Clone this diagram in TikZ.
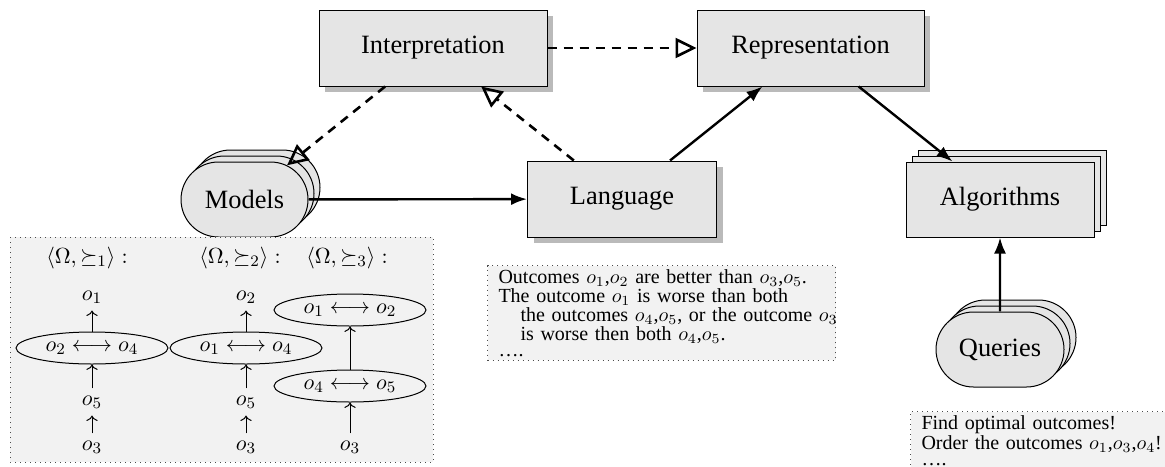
\documentclass[tikz,border=0pt]{standalone}
\usepackage[no-math]{fontspec}
\setmainfont{Liberation Serif}
\usetikzlibrary{arrows.meta,shapes.misc,shapes.geometric,shadows}

\tikzset{every picture/.style={line width=0.5pt}}
\tikzset{
  bigfont/.style={font=\fontsize{13.2}{15}\selectfont},
  block/.style={bigfont, draw, fill=black!10, minimum height=38pt, inner sep=2pt,
    drop shadow={shadow xshift=3pt, shadow yshift=-3pt, fill=black!27, opacity=1}},
  stack/.style={bigfont, draw, fill=black!10, minimum height=37.5pt, inner sep=2pt,
    general shadow={shadow xshift=6pt, shadow yshift=6pt, draw, fill=black!10},
    general shadow={shadow xshift=3pt, shadow yshift=3pt, draw, fill=black!10}},
  blob/.style={stack, rounded rectangle},
  note/.style={draw=black!70, dotted, fill=black!5},
  notetext/.style={note, anchor=north west, inner xsep=5.5pt, inner ysep=2pt,
    align=left, font=\fontsize{10}{8}\selectfont},
  uml/.style={line width=1.3pt, dash pattern=on 4.5pt off 3.5pt,
    -{Triangle[open, length=10.5pt, width=10pt]}},
  flow/.style={line width=1.2pt, -{Latex[length=8pt, width=6pt]}},
  order/.style={font=\fontsize{11}{13}\selectfont},
  group/.style={order, draw, ellipse, inner sep=0pt, minimum width=76pt, minimum height=16pt},
  up/.style={->, line width=0.5pt},
}

\begin{document}
\begin{tikzpicture}[x=0.5pt,y=0.5pt,yscale=-1,xscale=1]
\useasboundingbox (0,0) rectangle (1165,466);

% Blocks
\node [block, minimum width=114pt] (interp) at (433,48) {Interpretation};
\node [block, minimum width=113.5pt] (repr) at (810.5,48) {Representation};
\node [block, minimum width=94.5pt] (lang) at (622,199) {Language};
\node [stack, minimum width=94pt] (algo) at (1000,199.5) {Algorithms};
\node [blob, minimum width=67.5pt] (models) at (244.5,199.5) {Models};
\node [blob, minimum width=68pt] (queries) at (1000,349.5) {Queries};

% Dashed arrows
\draw [uml] (interp) -- (repr);
\draw [uml] (interp) -- (models);
\draw [uml] (lang) -- (interp);
% Solid arrows
\draw [flow] (models) -- (lang);
\draw [flow] (lang) -- (repr);
\draw [flow] (repr) -- (algo);
\draw [flow] (queries) -- (algo);

% Orders of the models
\draw [note] (10,237) rectangle (433,462);
\node [order] (h1) at (87,258) {$\langle\Omega,\succeq_1\rangle:$};
\node [order] (h2) at (240,258) {$\langle\Omega,\succeq_2\rangle:$};
\node [order] (h3) at (347,258) {$\langle\Omega,\succeq_3\rangle:$};

\node [order] (a1) at (92,297) {$o_1$};
\node [group] (e1) at (92,348) {$o_2\longleftrightarrow o_4$};
\node [order] (a5) at (92,402) {$o_5$};
\node [order] (a3) at (92,447) {$o_3$};
\draw [up] (e1) -- (a1);
\draw [up] (a5) -- (e1);
\draw [up] (a3) -- (a5);

\node [order] (b1) at (246,297) {$o_2$};
\node [group] (e2) at (246,348) {$o_1\longleftrightarrow o_4$};
\node [order] (b5) at (246,402) {$o_5$};
\node [order] (b3) at (246,447) {$o_3$};
\draw [up] (e2) -- (b1);
\draw [up] (b5) -- (e2);
\draw [up] (b3) -- (b5);

\node [group] (f1) at (350,310) {$o_1\longleftrightarrow o_2$};
\node [group] (f2) at (350,386) {$o_4\longleftrightarrow o_5$};
\node [order] (c3) at (350,447) {$o_3$};
\draw [up] (f2) -- (f1);
\draw [up] (c3) -- (f2);

% Text Node
\node [notetext, text width=163pt] (sentences) at (487,265) {\mbox{Outcomes $o_1$,$o_2$ are better than $o_3$,$o_5$.}\\
\mbox{The outcome $o_1$ is worse than both}\\
\mbox{\hspace*{11pt}the outcomes $o_4$,$o_5$, or the outcome $o_3$}\\
\mbox{\hspace*{11pt}is worse then both $o_4$,$o_5$.}\\
\dots.};
% Text Node
\node [notetext, text width=140pt] (asks) at (910,411) {\mbox{Find optimal outcomes!}\\
\mbox{Order the outcomes $o_1$,$o_3$,$o_4$!}\\
\dots.};

\end{tikzpicture}
\end{document}
